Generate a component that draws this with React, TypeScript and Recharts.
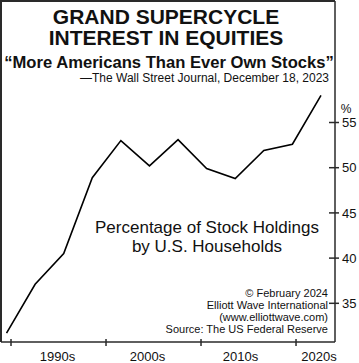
import React from "react";
import { LineChart, Line, XAxis, YAxis } from "recharts";

const years = [1989, 1992, 1995, 1998, 2001, 2004, 2007, 2010, 2013, 2016, 2019, 2022];
const shares = [31.7, 37.1, 40.5, 48.9, 53.0, 50.2, 53.1, 49.9, 48.8, 51.9, 52.6, 58.0];

const decadeTickYears = [1989.47, 1999.44, 2009.41, 2019.38];
const decadeLabelYears = [1994.35, 2003.79, 2013.55, 2021.79];
const decadeLabels = ["1990s", "2000s", "2010s", "2020s"];
const yTicks = [35, 40, 45, 50, 55];

const titleLines = ["GRAND SUPERCYCLE", "INTEREST IN EQUITIES"];
const quote = "\u201CMore Americans Than Ever Own Stocks\u201D";
const attribution = "\u2014The Wall Street Journal, December 18, 2023";
const centerLines = ["Percentage of Stock Holdings", "by U.S. Households"];
const noteLines = [
  "\u00A9 February 2024",
  "Elliott Wave International",
  "(www.elliottwave.com)",
  "Source: The US Federal Reserve",
];

const data = years.map((y, i) => ({ year: y, value: shares[i] }));

const FONT = "'Liberation Sans', Arial, sans-serif";
const INK = "#111";
const FRAME = "#2a2a2a";

const XTick = (props: any) => {
  const { x, y, payload } = props;
  const li = decadeLabelYears.indexOf(payload.value);
  if (li >= 0) {
    return (
      <text x={x} y={y + 19} textAnchor="middle" fontFamily={FONT} fontSize={13} fill={INK}>
        {decadeLabels[li]}
      </text>
    );
  }
  return <line x1={x} x2={x} y1={y - 3} y2={y + 4} stroke={FRAME} strokeWidth={1.5} />;
};

const YTick = (props: any) => {
  const { x, y, payload } = props;
  return (
    <g>
      <line x1={x - 6} x2={x + 4} y1={y} y2={y} stroke={FRAME} strokeWidth={1.5} />
      <text x={x + 7} y={y} dy="0.36em" textAnchor="start" fontFamily={FONT} fontSize={13} fill={INK}>
        {payload.value}
      </text>
      {payload.value === 55 ? (
        <text x={x + 11} y={y - 10} textAnchor="middle" fontFamily={FONT} fontSize={12} fill={INK}>
          %
        </text>
      ) : null}
    </g>
  );
};

export default function App() {
  return (
    <div style={{ position: "absolute", left: 0, top: 0, width: 359, height: 363, background: "#fff", overflow: "hidden" }}>
      <div
        style={{
          position: "absolute",
          left: 0,
          top: 0,
          width: 335,
          height: 342,
          borderLeft: `2px solid ${FRAME}`,
          borderTop: `2px solid ${FRAME}`,
          boxSizing: "border-box",
        }}
      />
      <div style={{ position: "absolute", left: 0, top: 0 }}>
        <LineChart width={359} height={363} data={data} margin={{ top: 1, right: 0, left: 1, bottom: 0 }}>
          <XAxis
            dataKey="year"
            type="number"
            domain={[1988.42, 2023.47]}
            allowDataOverflow
            ticks={[...decadeTickYears, ...decadeLabelYears]}
            interval={0}
            tickSize={0}
            tickMargin={0}
            tickLine={false}
            tick={<XTick />}
            axisLine={{ stroke: FRAME, strokeWidth: 1.5 }}
            height={21}
          />
          <YAxis
            orientation="right"
            type="number"
            domain={[30.72, 68.44]}
            allowDataOverflow
            ticks={yTicks}
            interval={0}
            tickSize={0}
            tickMargin={0}
            tickLine={false}
            tick={<YTick />}
            axisLine={{ stroke: FRAME, strokeWidth: 1.5 }}
            width={24}
          />
          <Line
            type="linear"
            dataKey="value"
            stroke="#000"
            strokeWidth={1.6}
            dot={false}
            isAnimationActive={false}
          />
        </LineChart>
      </div>
      <svg width={359} height={363} style={{ position: "absolute", left: 0, top: 0, pointerEvents: "none" }}>
        <g fontFamily={FONT} fill={INK}>
          <text x={166} y={24} textAnchor="middle" fontSize={21} fontWeight="bold">{titleLines[0]}</text>
          <text x={166} y={45} textAnchor="middle" fontSize={21} fontWeight="bold">{titleLines[1]}</text>
          <text x={169} y={68} textAnchor="middle" fontSize={16.6} fontWeight="bold">{quote}</text>
          <text x={329} y={82} textAnchor="end" fontSize={12}>{attribution}</text>
          <text x={207} y={233} textAnchor="middle" fontSize={17}>{centerLines[0]}</text>
          <text x={207} y={252} textAnchor="middle" fontSize={17}>{centerLines[1]}</text>
          {noteLines.map((t, i) => (
            <text key={i} x={328} y={297 + i * 12} textAnchor="end" fontSize={11}>{t}</text>
          ))}
        </g>
      </svg>
    </div>
  );
}
